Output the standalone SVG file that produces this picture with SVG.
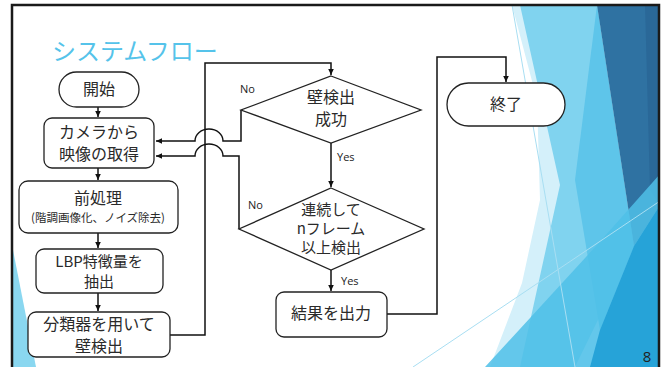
<svg xmlns="http://www.w3.org/2000/svg" width="667" height="367" viewBox="0 0 667 367">
<defs>
<style>
.node{fill:#fff;stroke:#222;stroke-width:1.3}
.t{font-family:"Noto Sans CJK JP","Noto Sans",sans-serif;font-size:16px;fill:#2a2a2a;text-anchor:middle}
.m{font-family:"Noto Sans CJK JP","Noto Sans",sans-serif;font-size:15px;fill:#2a2a2a;text-anchor:middle}
.s{font-family:"Noto Sans CJK JP","Noto Sans",sans-serif;font-size:11.5px;fill:#2a2a2a;text-anchor:middle}
.lbl{font-family:"Open Sans","Noto Sans",sans-serif;font-size:11px;fill:#222}
.c{fill:none;stroke:#111;stroke-width:1.5}
</style>
<marker id="ah" markerWidth="8" markerHeight="8" refX="6" refY="4" orient="auto" markerUnits="userSpaceOnUse">
<path d="M0,1.2 L6,4 L0,6.8 Z" fill="#111"/>
</marker>
</defs>
<rect x="0" y="0" width="667" height="367" fill="#fff"/>
<g id="background">
<polygon points="512,5 600,5 600,367 490,367 522,283 540,200 537,100" fill="#d4f0fa"/>
<polygon points="520,5 597,5 634,246 575,367 520,367 560,185" fill="#80d3ef"/>
<polygon points="597,5 634,246 600,330 575,180" fill="#5ec5ea"/>
<polygon points="597,5 660,5 660,205 634,246" fill="#2f72a2"/>
<polygon points="645,5 660,5 660,205 650,190" fill="#2a6898"/>
<polygon points="485,367 597,245 660,174 660,367" fill="#4fbfe8" opacity="0.85"/>
<polygon points="600,330 634,246 660,205 660,367 590,367" fill="#1f9fd6" opacity="0.9"/>
<line x1="413" y1="367" x2="660" y2="201" stroke="#a8def2" stroke-width="1"/>
<line x1="512" y1="5" x2="575" y2="367" stroke="#a8def2" stroke-width="1"/>
<polygon points="13,250 13,367 36,367" fill="#8ad7f0"/>
</g>
<rect x="12" y="5" width="647" height="380" fill="none" stroke="#1a1a1a" stroke-width="2.5"/>
<text x="52" y="60" font-family="'Noto Sans CJK JP','Noto Sans',sans-serif" font-size="24" fill="#55c3ea">システムフロー</text>
<text x="647" y="362" font-family="'Open Sans','Noto Sans',sans-serif" font-size="15" fill="#222" text-anchor="middle">8</text>
<g id="connectors">
<path class="c" d="M98,107 V117" marker-end="url(#ah)"/>
<path class="c" d="M98,168 V180" marker-end="url(#ah)"/>
<path class="c" d="M98,233 V248" marker-end="url(#ah)"/>
<path class="c" d="M98,293 V311" marker-end="url(#ah)"/>
<path class="c" d="M170,335 H205 V63 H331 V75" marker-end="url(#ah)"/>
<path class="c" d="M241,110 V141 H223 A14,12 0 0 0 195,141 H156" marker-end="url(#ah)"/>
<path class="c" d="M239,229 V156 H223 A14,12 0 0 0 195,156 H156" marker-end="url(#ah)"/>
<path class="c" d="M331,143 V187" marker-end="url(#ah)"/>
<path class="c" d="M331,270 V291" marker-end="url(#ah)"/>
<path class="c" d="M387,314 H437 V57 H506 V82" marker-end="url(#ah)"/>
<text class="lbl" x="240" y="93">No</text>
<text class="lbl" x="248" y="209">No</text>
<text class="lbl" x="337" y="161">Yes</text>
<text class="lbl" x="341" y="285">Yes</text>
</g>
<g id="start">
<rect class="node" x="59" y="72" width="80" height="35" rx="17.5"/>
<text class="t" x="99" y="95">開始</text>
</g>
<g id="camera">
<rect class="node" x="44" y="118" width="110" height="50" rx="8"/>
<text class="t" x="99" y="138">カメラから</text>
<text class="t" x="99" y="160">映像の取得</text>
</g>
<g id="preprocess">
<rect class="node" x="19" y="181" width="159" height="52" rx="9"/>
<text class="t" x="98" y="204">前処理</text>
<text class="s" x="98" y="222">(階調画像化、ノイズ除去)</text>
</g>
<g id="lbp">
<rect class="node" x="36" y="249" width="127" height="44" rx="8"/>
<text class="m" x="99" y="267">LBP特徴量を</text>
<text class="m" x="99" y="287">抽出</text>
</g>
<g id="classifier">
<rect class="node" x="28" y="312" width="142" height="45" rx="8"/>
<text class="t" x="99" y="330">分類器を用いて</text>
<text class="t" x="99" y="352">壁検出</text>
</g>
<g id="decision1">
<polygon class="node" points="331,76 421,110 331,143 241,110"/>
<text class="t" x="331" y="103">壁検出</text>
<text class="t" x="331" y="125">成功</text>
</g>
<g id="decision2">
<polygon class="node" points="331,188 424,229 331,270 239,229"/>
<text class="m" x="331" y="215">連続して</text>
<text class="m" x="331" y="234">nフレーム</text>
<text class="m" x="331" y="253">以上検出</text>
</g>
<g id="result">
<rect class="node" x="276" y="292" width="111" height="45" rx="8"/>
<text class="t" x="331" y="319">結果を出力</text>
</g>
<g id="end">
<rect class="node" x="447" y="83" width="118" height="43" rx="21.5"/>
<text class="t" x="506" y="110">終了</text>
</g>
</svg>
